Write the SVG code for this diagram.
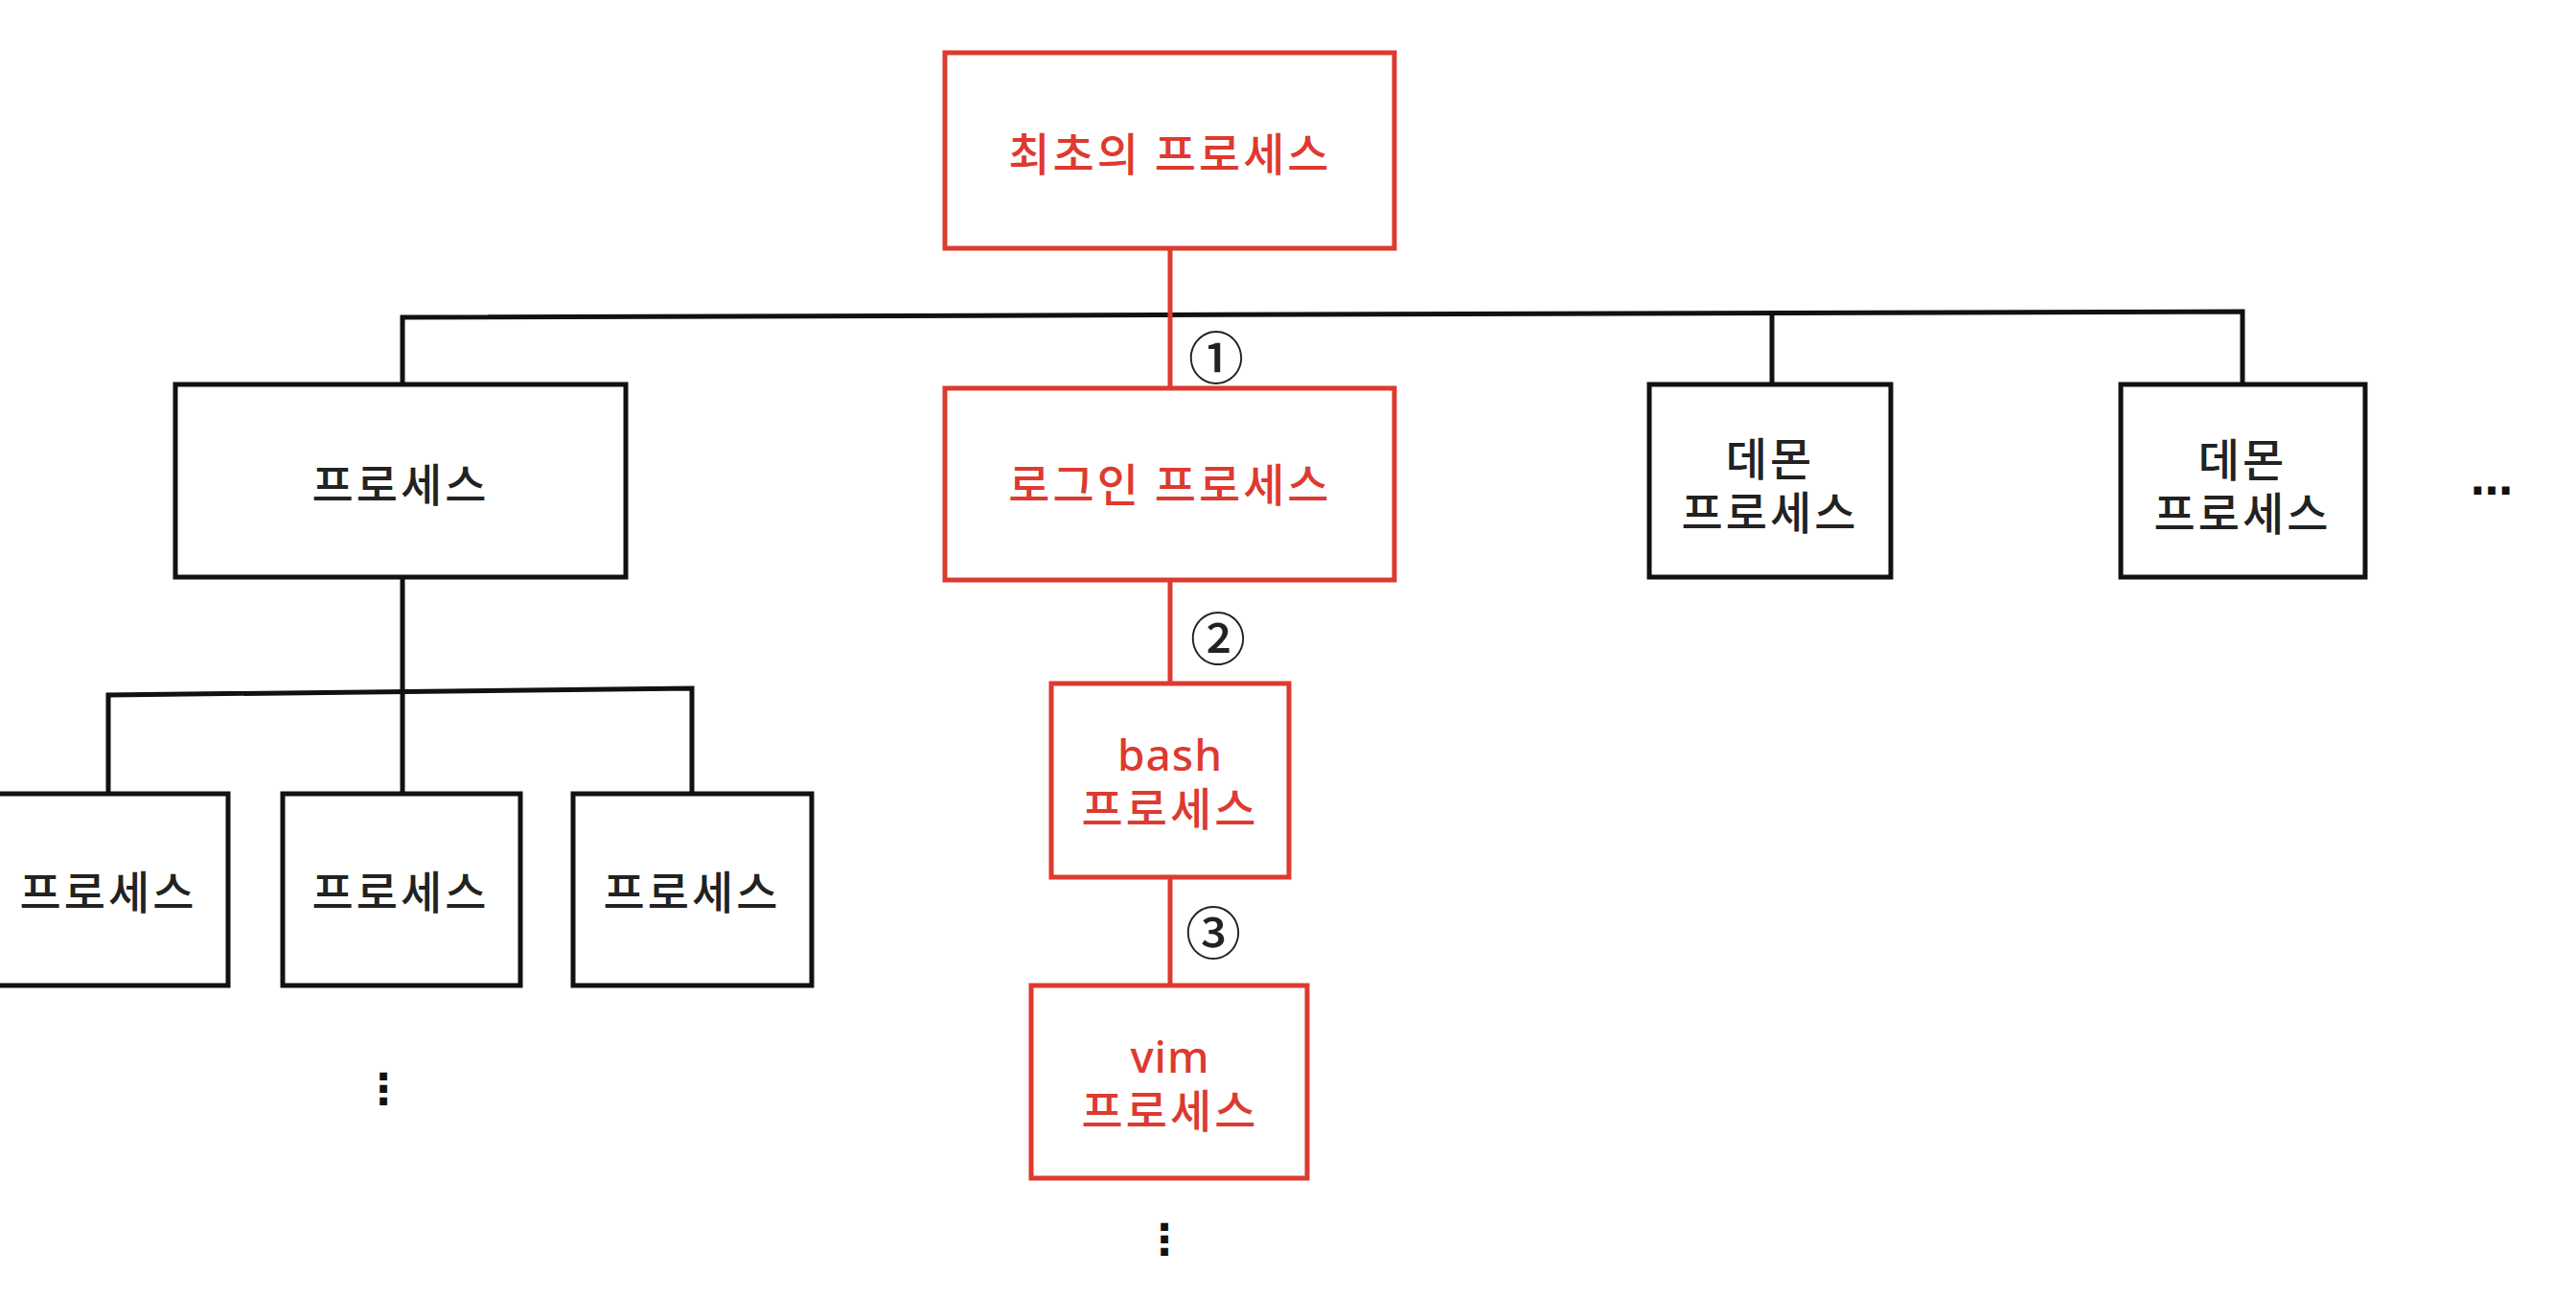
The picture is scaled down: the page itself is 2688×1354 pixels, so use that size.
<svg xmlns="http://www.w3.org/2000/svg" width="2688" height="1354" viewBox="0 0 2688 1354">
<style>
.bx{fill:#fff;stroke:#111;stroke-width:5}
.rbx{fill:#fff;stroke:#dd3a30;stroke-width:5}
.ln{fill:none;stroke:#111;stroke-width:5}
.rln{fill:none;stroke:#dd3a30;stroke-width:5}
.t,.rt{font-family:"Noto Sans CJK KR","Noto Sans",sans-serif;font-size:47px;font-weight:500;letter-spacing:3px;text-anchor:middle;dominant-baseline:central}
.t{fill:#222}
.rt{fill:#dd3a30}
.lat{font-family:"Noto Sans",sans-serif;font-size:46px;font-weight:500;letter-spacing:1px}
.n{font-family:"Noto Sans CJK KR",sans-serif;font-size:58px;font-weight:500;fill:#222;text-anchor:middle;dominant-baseline:central}
.d{font-family:"DejaVu Sans",sans-serif;font-weight:bold;font-size:44px;fill:#111;text-anchor:middle;dominant-baseline:central}
</style>
<rect width="2688" height="1354" fill="#fff"/>
<g id="connectors">
<polyline class="ln" points="420,401 420,331 2340,325 2340,401"/>
<line class="ln" x1="1849" y1="326" x2="1849" y2="401"/>
<line class="ln" x1="420" y1="602" x2="420" y2="828"/>
<polyline class="ln" points="113,828 113,725 722,718 722,828"/>
<line class="rln" x1="1221" y1="259" x2="1221" y2="405"/>
<line class="rln" x1="1221" y1="605" x2="1221" y2="713"/>
<line class="rln" x1="1221" y1="915" x2="1221" y2="1028"/>
<text class="n" x="1269" y="370">①</text>
<text class="n" x="1271" y="663">②</text>
<text class="n" x="1266" y="970">③</text>
</g>
<g id="n-first"><rect class="rbx" x="986" y="55" width="469" height="204"/><text class="rt" x="1221" y="157">최초의 프로세스</text></g>
<g id="n-login"><rect class="rbx" x="986" y="405" width="469" height="200"/><text class="rt" x="1221" y="502">로그인 프로세스</text></g>
<g id="n-bash"><rect class="rbx" x="1097" y="713" width="248" height="202"/><text class="rt lat" x="1221" y="786">bash</text><text class="rt" x="1221" y="840">프로세스</text></g>
<g id="n-vim"><rect class="rbx" x="1076" y="1028" width="288" height="201"/><text class="rt lat" x="1221" y="1101">vim</text><text class="rt" x="1221" y="1155">프로세스</text></g>
<g id="n-proc"><rect class="bx" x="183" y="401" width="470" height="201"/><text class="t" x="418" y="502">프로세스</text></g>
<g id="n-daemon1"><rect class="bx" x="1721" y="401" width="252" height="201"/><text class="t" x="1847" y="475">데몬</text><text class="t" x="1847" y="531">프로세스</text></g>
<g id="n-daemon2"><rect class="bx" x="2213" y="401" width="255" height="201"/><text class="t" x="2340" y="476">데몬</text><text class="t" x="2340" y="532">프로세스</text></g>
<g id="n-sub1"><rect class="bx" x="-10" y="828" width="248" height="200"/><text class="t" x="113" y="927">프로세스</text></g>
<g id="n-sub2"><rect class="bx" x="295" y="828" width="248" height="200"/><text class="t" x="418" y="927">프로세스</text></g>
<g id="n-sub3"><rect class="bx" x="598" y="828" width="249" height="200"/><text class="t" x="722" y="927">프로세스</text></g>
<text class="d" x="2600" y="500">…</text>
<text class="d" x="400" y="1135">⋮</text>
<text class="d" x="1215" y="1292">⋮</text>
</svg>
